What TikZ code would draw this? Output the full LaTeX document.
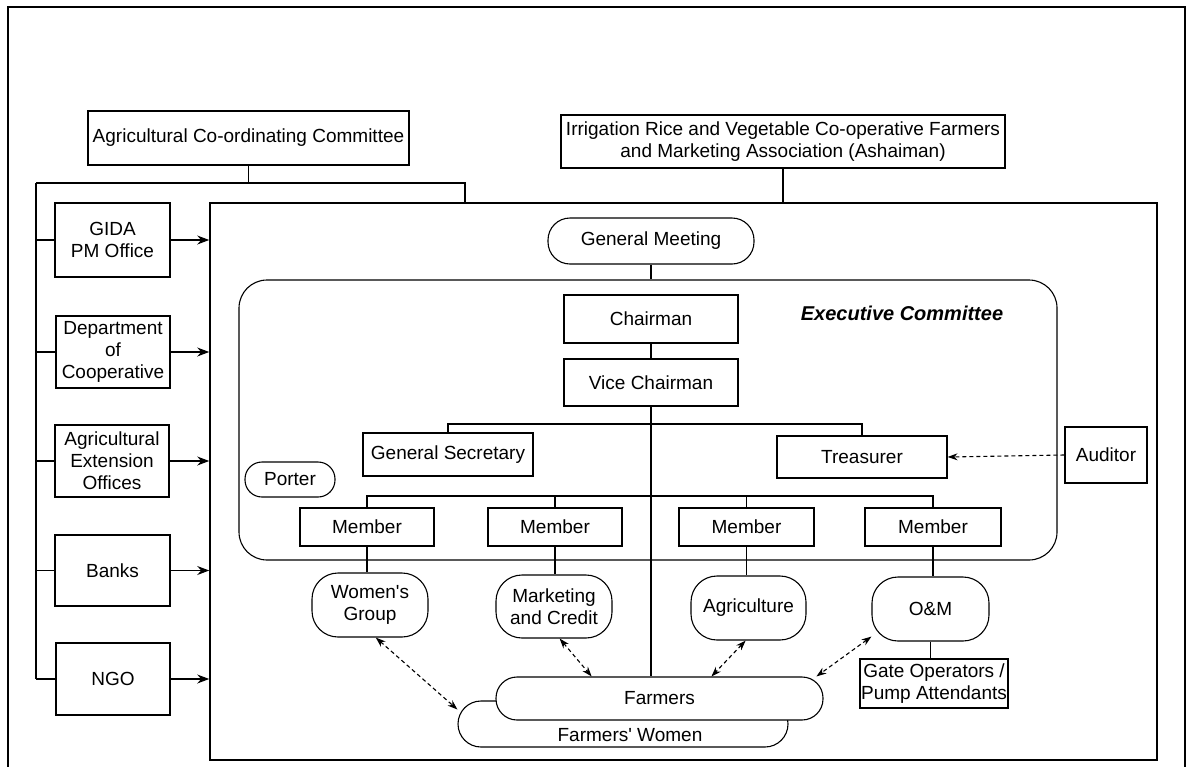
\documentclass[tikz,border=0pt]{standalone}
\usepackage{fontspec}
\setmainfont{Liberation Sans}
\usetikzlibrary{arrows.meta}
\begin{document}
\begin{tikzpicture}[x=1pt,y=-1pt,
  every node/.style={font=\fontsize{19}{22}\selectfont},
  sz/.style 2 args={minimum width=#1pt, minimum height=#2pt},
  box/.style={draw, line width=1.1pt, inner sep=0pt, align=center, fill=white},
  rbox/.style={box, rounded corners=#1},
  link/.style={line width=1.1pt},
  feed/.style={line width=1.1pt, -{Stealth[length=12pt,width=9pt,inset=4pt]}},
  dlink/.style={line width=1.1pt, dash pattern=on 4pt off 3pt,
    {Stealth[length=10pt,width=7pt]}-{Stealth[length=10pt,width=7pt]}},
  dfeed/.style={line width=1.1pt, dash pattern=on 4pt off 3pt, -{Stealth[length=10pt,width=7pt]}},
  frm/.style={draw, line width=1.6pt, inner sep=0pt},
]
\useasboundingbox (0,0) rectangle (1186,766);
% outer frame (bottom edge cut off)
\draw[line width=1.3pt] (8,772) -- (8,7) -- (1185,7) -- (1185,772);

% top boxes
\node[box, sz={321}{54}] (acc) at (248.5,138) {Agricultural Co-ordinating Committee};
\node[box, sz={444}{53}] (irr) at (783,141.5) {Irrigation Rice and Vegetable Co-operative Farmers\\and Marketing Association (Ashaiman)};

% main frame
\node[frm, sz={947}{557}] (frame) at (683.5,481.5) {};

% left boxes
\node[box, sz={115}{74}] (gida) at (112.5,240) {GIDA\\PM Office};
\node[box, sz={114}{72}] (dept) at (113,352) {Department\\of\\Cooperative};
\node[box, sz={114}{72}] (agext) at (112,461) {Agricultural\\Extension\\Offices};
\node[box, sz={115}{71}] (banks) at (112.5,570.5) {Banks};
\node[box, sz={114}{72}] (ngo) at (113,679) {NGO};

\coordinate (busL) at (36,183);
\coordinate (busR) at (465,183);
\draw[link] (acc.south) -- (acc.south |- busL);
\draw[link] (busL) -- (busR) -- (busR |- frame.north);
\draw[link] (busL) -- (busL |- ngo.west);
\foreach \n in {gida,dept,agext,banks,ngo}{
  \draw[link] (busL |- \n.west) -- (\n.west);
  \draw[feed] (\n.east) -- (\n.east -| frame.west);
}
\draw[link] (irr.south) -- (irr.south |- frame.north);

% general meeting and executive committee
\node[rbox=22pt, sz={206}{46}] (gm) at (651,241) {General Meeting};
\node[draw, line width=1.1pt, rounded corners=28pt, sz={818}{280}, inner sep=0pt] (exec) at (648,420) {};
\node[font=\bfseries\itshape\fontsize{20}{22}\selectfont] (execlabel) at (902,313) {Executive Committee};
\draw[link] (gm.south) -- (gm.south |- exec.north);

\node[box, sz={174}{48}] (chair) at (651,319) {Chairman};
\node[box, sz={174}{47}] (vice) at (651,382.5) {Vice Chairman};
\node[box, sz={170}{43}] (gensec) at (448,454.5) {General Secretary};
\node[box, sz={170}{42}] (treas) at (862,457) {Treasurer};
\node[box, sz={82}{56}] (auditor) at (1106,455) {Auditor};
\node[rbox=17pt, sz={90}{35}] (porter) at (290,479.5) {Porter};

\node[box, sz={134}{38}] (m1) at (367,527) {Member};
\node[box, sz={134}{38}] (m2) at (555,527) {Member};
\node[box, sz={135}{38}] (m3) at (746.5,527) {Member};
\node[box, sz={136}{38}] (m4) at (933,527) {Member};

\node[rbox=26pt, sz={116}{64}] (wg) at (370,605) {Women\textquotesingle s\\Group};
\node[rbox=26pt, sz={116}{63}] (mc) at (554,606.5) {Marketing\\and Credit};
\node[rbox=26pt, sz={115}{64}] (ag) at (748.5,608) {Agriculture};
\node[rbox=26pt, sz={117}{64}] (om) at (930.5,609) {O\&M};
\node[box, sz={148}{49}] (gate) at (934,683.5) {Gate Operators /\\Pump Attendants};

\node[rbox=23pt, sz={330}{46}] (fw) at (623,724) {};
\node (fwtext) at (630,735) {Farmers\textquotesingle\ Women};
\node[rbox=21pt, sz={327}{43}] (farmers) at (659.5,698.5) {Farmers};

% tree connectors
\draw[link] (chair) -- (vice);
\draw[link] (vice.south) -- (vice.south |- farmers.north);
\coordinate (sbus) at (0,424);
\draw[link] (gensec.north) -- (gensec.north |- sbus) -- (treas.north |- sbus) -- (treas.north);
\coordinate (mbus) at (0,496);
\draw[link] (m1.north) -- (m1.north |- mbus) -- (m4.north |- mbus) -- (m4.north);
\draw[link] (m2.north) -- (m2.north |- mbus);
\draw[link] (m3.north) -- (m3.north |- mbus);
\draw[link] (m1.south) -- (m1.south |- wg.north);
\draw[link] (m2.south) -- (m2.south |- mc.north);
\draw[link] (m3.south) -- (m3.south |- ag.north);
\draw[link] (m4.south) -- (m4.south |- om.north);
\draw[link] (om.south) -- (om.south |- gate.north);

% dashed links
\draw[dfeed] (auditor.west) -- (treas.east);
\draw[dlink] (wg.-80) -- (fw.175);
\draw[dlink] (mc.-80) -- (farmers.162);
\draw[dlink] (ag.-95) -- (farmers.23);
\draw[dlink] (om.205) -- (farmers.8.5);
\end{tikzpicture}
\end{document}
